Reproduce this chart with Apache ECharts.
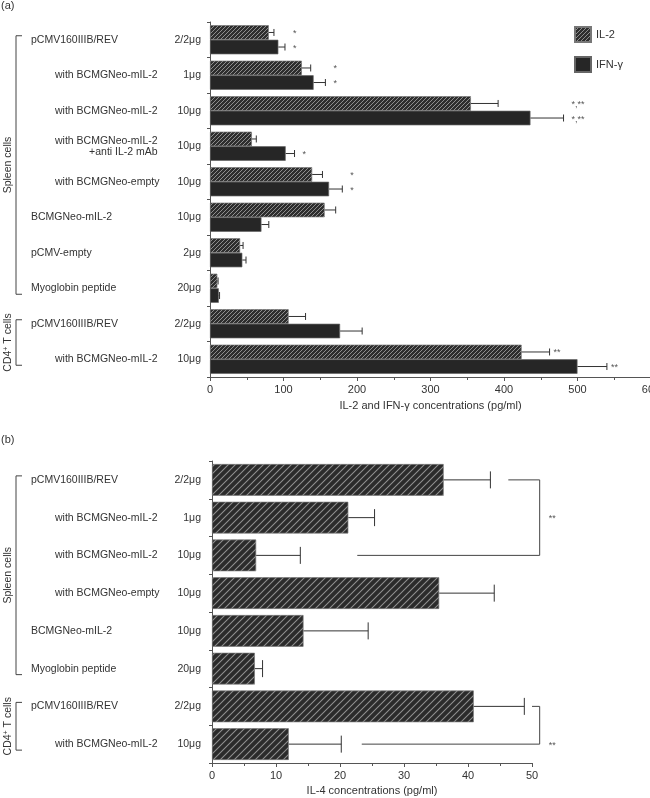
<!DOCTYPE html>
<html><head><meta charset="utf-8">
<script src="https://cdn.jsdelivr.net/npm/echarts@6/dist/echarts.min.js"></script>
<style>html,body{margin:0;padding:0;background:#fff}#c{width:650px;height:798px}</style>
</head><body><div id="c"></div>
<script>
// ---------- Panel (a) data ----------
const topNames = ['pCMV160IIIB/REV','with BCMGNeo-mIL-2','with BCMGNeo-mIL-2','with BCMGNeo-mIL-2\n+anti IL-2 mAb','with BCMGNeo-empty','BCMGNeo-mIL-2','pCMV-empty','Myoglobin peptide','pCMV160IIIB/REV','with BCMGNeo-mIL-2'];
const topDoses = ['2/2μg','1μg','10μg','10μg','10μg','10μg','2μg','20μg','2/2μg','10μg'];
const topCells = ['Spleen cells','Spleen cells','Spleen cells','Spleen cells','Spleen cells','Spleen cells','Spleen cells','Spleen cells','CD4+ T cells','CD4+ T cells'];
const il2    = [80, 125, 355, 57, 139, 156, 41, 10, 107, 424];
const il2Err = [87, 137, 392, 63, 153, 171, 45, 11, 130, 462];
const ifn    = [93, 141, 436, 103, 162, 70, 44, 12, 177, 500];
const ifnErr = [102, 157, 481, 115, 180, 80, 49, 13, 207, 540];
const sigIL2 = ['*','*','*,**','','*','','','','','**'];
const sigIFN = ['*','*','*,**','*','*','','','','','**'];
const topTicks = [0,100,200,300,400,500,600];

// ---------- Panel (b) data ----------
const botNames = ['pCMV160IIIB/REV','with BCMGNeo-mIL-2','with BCMGNeo-mIL-2','with BCMGNeo-empty','BCMGNeo-mIL-2','Myoglobin peptide','pCMV160IIIB/REV','with BCMGNeo-mIL-2'];
const botDoses = ['2/2μg','1μg','10μg','10μg','10μg','20μg','2/2μg','10μg'];
const botCells = ['Spleen cells','Spleen cells','Spleen cells','Spleen cells','Spleen cells','Spleen cells','CD4+ T cells','CD4+ T cells'];
const il4    = [36.2, 21.3, 6.9, 35.5, 14.3, 6.7, 40.9, 12.0];
const il4Err = [43.5, 25.4, 13.8, 44.1, 24.4, 7.9, 48.8, 20.2];
// significance brackets: [rowA, rowB, startA, startB, bracketX]
const sigBrackets = [[0, 2, 46.3, 22.7, 51.2], [6, 7, 50.0, 23.4, 51.2]];
const sigBracketText = ['**', '**'];
const botTicks = [0,10,20,30,40,50];

const FONT = 'Liberation Sans, Arial, Helvetica, sans-serif';
const TXT = '#333';
const AX = '#555';

const topIdx = topNames.map((_, i) => String(i));
const botIdx = botNames.map((_, i) => String(i));

// diagonal hatch tiles ("/" direction)
function hatch(size, bg, fg, lw) {
  const c = document.createElement('canvas');
  c.width = size; c.height = size;
  const g = c.getContext('2d');
  g.fillStyle = bg; g.fillRect(0, 0, size, size);
  g.strokeStyle = fg; g.lineWidth = lw;
  g.beginPath();
  g.moveTo(-1, size + 1); g.lineTo(size + 1, -1);
  g.moveTo(-1, 1); g.lineTo(1, -1);
  g.moveTo(size - 1, size + 1); g.lineTo(size + 1, size - 1);
  g.stroke();
  return {image: c, repeat: 'repeat'};
}
const hatchTop = hatch(4, '#2e2e2e', '#9a9a9a', 0.9);
const hatchBot = hatch(7, '#2b2b2b', '#8f8f8f', 1.1);

function nameFormatter(names) {
  return function (v) {
    const s = names[+v];
    if (s.indexOf('\n') >= 0) {
      const parts = s.split('\n');
      return '{w|' + parts[0] + '}\n{r|' + parts[1] + '}';
    }
    if (s.indexOf('with') === 0) return '{w|' + s + '}';
    return '{n|' + s + '}';
  };
}
const nameRich = {
  n: {fontSize: 10.5, fontFamily: FONT, color: TXT},
  w: {fontSize: 10.5, fontFamily: FONT, color: TXT, padding: [0, 0, 0, 24]},
  r: {fontSize: 10.5, fontFamily: FONT, color: TXT, align: 'right', lineHeight: 11}
};

const GAP = 0.18;
function errRender(nBars, barIdx, capH, color) {
  return function (params, api) {
    const cat = api.value(0), v = api.value(1), e = api.value(2);
    const band = api.size([0, 1])[1];
    const total = band * (1 - GAP);
    const bw = total / nBars;
    const c0 = api.coord([v, cat]);
    const c1 = api.coord([e, cat]);
    const y = c0[1] - total / 2 + bw * (barIdx + 0.5);
    return {type: 'group', children: [
      {type: 'line', shape: {x1: c0[0], y1: y, x2: c1[0], y2: y}, style: {stroke: color, lineWidth: 1}},
      {type: 'line', shape: {x1: c1[0], y1: y - capH / 2, x2: c1[0], y2: y + capH / 2}, style: {stroke: color, lineWidth: 1}}
    ]};
  };
}

// star annotations for panel (a)
const starData = [], starText = [];
topNames.forEach((_, i) => {
  const own = topCells[i] !== 'Spleen cells';
  const groupMax = Math.max(il2Err[i], ifnErr[i]);
  if (sigIL2[i]) { starData.push([i, own ? il2Err[i] : groupMax, 0, own ? 4 : 8]); starText.push(sigIL2[i]); }
  if (sigIFN[i]) { starData.push([i, own ? ifnErr[i] : groupMax, 1, own ? 4 : 8]); starText.push(sigIFN[i]); }
});
function starRender(params, api) {
  const cat = api.value(0), x = api.value(1), bi = api.value(2), off = api.value(3);
  const band = api.size([0, 1])[1];
  const total = band * (1 - GAP);
  const bw = total / 2;
  const c = api.coord([x, cat]);
  const y = c[1] - total / 2 + bw * (bi + 0.5);
  return {type: 'text', x: c[0] + off, y: y + 1, style: {text: starText[params.dataIndex], fontSize: 9, fontFamily: FONT, fill: '#555', align: 'left', verticalAlign: 'middle'}};
}
function bracketRender(params, api) {
  const a = api.value(0), b = api.value(1), sa = api.value(2), sb = api.value(3), bx = api.value(4);
  const p1 = api.coord([sa, a]), p2 = api.coord([bx, a]), p3 = api.coord([bx, b]), p4 = api.coord([sb, b]);
  const mid = api.coord([bx, (a + b) / 2]);
  return {type: 'group', children: [
    {type: 'polyline', shape: {points: [p1, p2, p3, p4]}, style: {stroke: '#444', lineWidth: 1, fill: null}},
    {type: 'text', x: mid[0] + 9, y: mid[1] + 1, style: {text: sigBracketText[params.dataIndex], fontSize: 9, fontFamily: FONT, fill: '#555', align: 'left', verticalAlign: 'middle'}}
  ]};
}

const valueAxisCommon = {
  type: 'value',
  axisLine: {show: true, lineStyle: {color: AX, width: 1}},
  axisTick: {show: true, length: 4, lineStyle: {color: AX}},
  minorTick: {show: true, splitNumber: 2, length: 3, lineStyle: {color: AX}},
  splitLine: {show: false},
  axisLabel: {fontSize: 11, fontFamily: FONT, color: TXT, margin: 7, hideOverlap: false, showMaxLabel: true},
  nameLocation: 'middle',
  nameTextStyle: {fontSize: 11, fontFamily: FONT, color: TXT}
};

const option = {
  animation: false,
  backgroundColor: '#fff',
  title: [
    {text: '(a)', left: 1, top: 0, padding: 0, textStyle: {fontSize: 11, fontWeight: 'normal', fontFamily: FONT, color: TXT}},
    {text: '(b)', left: 1, top: 434, padding: 0, textStyle: {fontSize: 11, fontWeight: 'normal', fontFamily: FONT, color: TXT}}
  ],
  legend: {
    orient: 'vertical', left: 569, top: 21, itemWidth: 16, itemHeight: 15, itemGap: 13, icon: 'rect',
    textStyle: {fontSize: 11, fontFamily: FONT, color: TXT},
    data: ['IL-2', 'IFN-γ']
  },
  grid: [
    {left: 210, right: -1, top: 22, height: 355, outerBoundsMode: 'none', containLabel: false},
    {left: 212, right: 118, top: 461, height: 302, outerBoundsMode: 'none', containLabel: false},
    {left: 0, width: 31, top: 22, height: 355, outerBoundsMode: 'none'},
    {left: 0, width: 31, top: 461, height: 302, outerBoundsMode: 'none'}
  ],
  xAxis: [
    Object.assign({}, valueAxisCommon, {gridIndex: 0, min: topTicks[0], max: topTicks[topTicks.length - 1], interval: 100,
      name: 'IL-2 and IFN-γ concentrations (pg/ml)', nameGap: 23}),
    Object.assign({}, valueAxisCommon, {gridIndex: 1, min: botTicks[0], max: botTicks[botTicks.length - 1], interval: 10,
      name: 'IL-4 concentrations (pg/ml)', nameGap: 22}),
    {gridIndex: 2, type: 'value', show: false},
    {gridIndex: 3, type: 'value', show: false}
  ],
  yAxis: [
    {gridIndex: 0, type: 'category', data: topIdx, inverse: true, boundaryGap: true,
      axisLine: {show: true, lineStyle: {color: AX}}, axisTick: {show: true, length: 3, lineStyle: {color: AX}},
      axisLabel: {margin: 9, fontSize: 10.5, fontFamily: FONT, color: TXT, formatter: v => topDoses[+v]}},
    {gridIndex: 1, type: 'category', data: botIdx, inverse: true, boundaryGap: true,
      axisLine: {show: true, lineStyle: {color: AX}}, axisTick: {show: true, length: 3, lineStyle: {color: AX}},
      axisLabel: {margin: 11, fontSize: 10.5, fontFamily: FONT, color: TXT, formatter: v => botDoses[+v]}},
    {gridIndex: 2, type: 'category', data: topIdx, inverse: true, position: 'right',
      axisLine: {show: false}, axisTick: {show: false},
      axisLabel: {margin: 0, align: 'left', formatter: nameFormatter(topNames), rich: nameRich}},
    {gridIndex: 3, type: 'category', data: botIdx, inverse: true, position: 'right',
      axisLine: {show: false}, axisTick: {show: false},
      axisLabel: {margin: 0, align: 'left', formatter: nameFormatter(botNames), rich: nameRich}}
  ],
  series: [
    {name: 'IL-2', type: 'bar', xAxisIndex: 0, yAxisIndex: 0, data: il2, barGap: '0%', barCategoryGap: '18%',
      itemStyle: {color: hatchTop, borderColor: '#777', borderWidth: 0.7}},
    {name: 'IFN-γ', type: 'bar', xAxisIndex: 0, yAxisIndex: 0, data: ifn, barGap: '0%', barCategoryGap: '18%',
      itemStyle: {color: '#262626', borderColor: '#666', borderWidth: 0.7}},
    {type: 'custom', xAxisIndex: 0, yAxisIndex: 0, renderItem: errRender(2, 0, 7, '#333'),
      data: il2.map((v, i) => [i, v, il2Err[i]]), encode: {x: [1, 2], y: 0}, silent: true, z: 3},
    {type: 'custom', xAxisIndex: 0, yAxisIndex: 0, renderItem: errRender(2, 1, 7, '#333'),
      data: ifn.map((v, i) => [i, v, ifnErr[i]]), encode: {x: [1, 2], y: 0}, silent: true, z: 3},
    {type: 'custom', xAxisIndex: 0, yAxisIndex: 0, renderItem: starRender,
      data: starData, encode: {x: 1, y: 0}, silent: true, z: 4},
    {name: 'IL-4', type: 'bar', xAxisIndex: 1, yAxisIndex: 1, data: il4, barCategoryGap: '16%',
      itemStyle: {color: hatchBot, borderColor: '#777', borderWidth: 0.7}},
    {type: 'custom', xAxisIndex: 1, yAxisIndex: 1, renderItem: (p, api) => {
        const cat = api.value(0), v = api.value(1), e = api.value(2);
        const c0 = api.coord([v, cat]), c1 = api.coord([e, cat]);
        return {type: 'group', children: [
          {type: 'line', shape: {x1: c0[0], y1: c0[1], x2: c1[0], y2: c1[1]}, style: {stroke: '#333', lineWidth: 1}},
          {type: 'line', shape: {x1: c1[0], y1: c1[1] - 8.5, x2: c1[0], y2: c1[1] + 8.5}, style: {stroke: '#333', lineWidth: 1}}
        ]};
      },
      data: il4.map((v, i) => [i, v, il4Err[i]]), encode: {x: [1, 2], y: 0}, silent: true, z: 3},
    {type: 'custom', xAxisIndex: 1, yAxisIndex: 1, renderItem: bracketRender,
      data: sigBrackets, encode: {x: [2, 3, 4], y: [0, 1]}, silent: true, z: 4}
  ]
};

const chart = echarts.init(document.getElementById('c'), null, {renderer: 'canvas'});
chart.setOption(option);

// cell-type brackets on the left
function runs(cells) {
  const out = [];
  cells.forEach((c, i) => {
    if (!out.length || out[out.length - 1].name !== c) out.push({name: c, a: i, b: i});
    else out[out.length - 1].b = i;
  });
  return out;
}
const gfx = [];
function addBrackets(cells, yAxisIndex) {
  runs(cells).forEach(r => {
    const ya = chart.convertToPixel({yAxisIndex: yAxisIndex}, String(r.a)) - 4;
    const yb = chart.convertToPixel({yAxisIndex: yAxisIndex}, String(r.b)) + 6;
    gfx.push({type: 'polyline', silent: true, shape: {points: [[22, ya], [16, ya], [16, yb], [22, yb]]},
      style: {stroke: '#444', lineWidth: 1, fill: null}});
    const isCD4 = r.name.indexOf('CD4') === 0;
    gfx.push({type: 'text', silent: true, x: 8, y: (ya + yb) / 2, rotation: Math.PI / 2,
      style: {text: isCD4 ? 'CD4{sup|+} T cells' : r.name, fontSize: 10.5, fontFamily: FONT, fill: TXT,
        align: 'center', verticalAlign: 'middle',
        rich: {sup: {fontSize: 7, fontFamily: FONT, fill: TXT, verticalAlign: 'top'}}}});
  });
}
addBrackets(topCells, 0);
addBrackets(botCells, 1);
chart.setOption({graphic: gfx});
</script>
</body></html>
